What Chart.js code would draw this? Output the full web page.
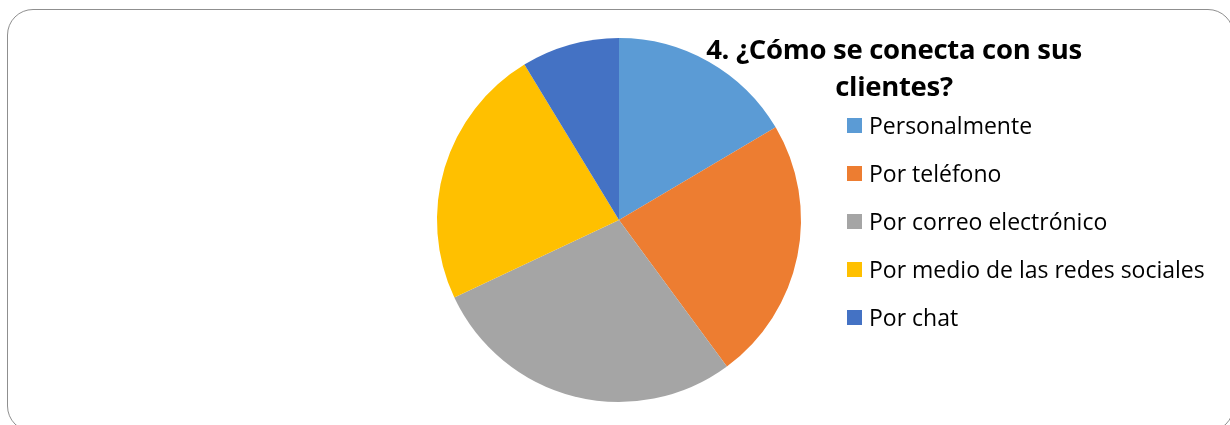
<!DOCTYPE html>
<html>
<head>
<meta charset="utf-8">
<script src="https://cdn.jsdelivr.net/npm/chart.js@4"></script>
<style>
  body { margin: 0; background: #fff; }
  #wrap { position: relative; width: 1230px; height: 425px; overflow: hidden; }
  #frame {
    position: absolute; left: 7px; top: 9px; width: 1227px; height: 423px;
    border: 1.5px solid #8f8f8f; border-radius: 26px; box-sizing: border-box;
  }
  canvas { position: absolute; left: 0; top: 0; }
  #title {
    position: absolute; left: 644px; top: 30px; width: 500px;
    text-align: center; font-family: "Open Sans", sans-serif; font-weight: bold;
    font-size: 27.5px; line-height: 37px; color: #000; letter-spacing: -0.3px;
  }
  #legend { position: absolute; left: 847px; top: 101px; font-family: "Open Sans", sans-serif; }
  .item { height: 48px; display: flex; align-items: center; font-size: 23px; color: #000; white-space: nowrap; }
  .box { width: 15px; height: 15px; margin-right: 7px; flex: none; }
</style>
</head>
<body>
<div id="wrap">
  <div id="frame"></div>
  <canvas id="pieChart" width="1230" height="425"></canvas>
  <div id="title">4. ¿Cómo se conecta con sus<br>clientes?</div>
  <div id="legend"></div>
</div>
<script>
// categories and shares (%)
const categories = ["Personalmente", "Por teléfono", "Por correo electrónico", "Por medio de las redes sociales", "Por chat"];
const responses = [16.5, 23.4, 28.1, 23.3, 8.7];
const sliceColors = ["#5B9BD5", "#ED7D31", "#A5A5A5", "#FFC000", "#4472C4"];

// html legend built from the same arrays
const legend = document.getElementById("legend");
categories.forEach((label, i) => {
  const row = document.createElement("div");
  row.className = "item";
  row.innerHTML = '<span class="box" style="background:' + sliceColors[i] + '"></span>' + label;
  legend.appendChild(row);
});

const ctx = document.getElementById("pieChart").getContext("2d");
new Chart(ctx, {
  type: "pie",
  data: {
    labels: categories,
    datasets: [{
      data: responses,
      backgroundColor: sliceColors,
      borderWidth: 0
    }]
  },
  options: {
    responsive: false,
    animation: false,
    layout: { padding: { left: 437, right: 429, top: 38, bottom: 23 } },
    plugins: {
      legend: { display: false },
      title: { display: false },
      tooltip: { enabled: false }
    }
  }
});
</script>
</body>
</html>
